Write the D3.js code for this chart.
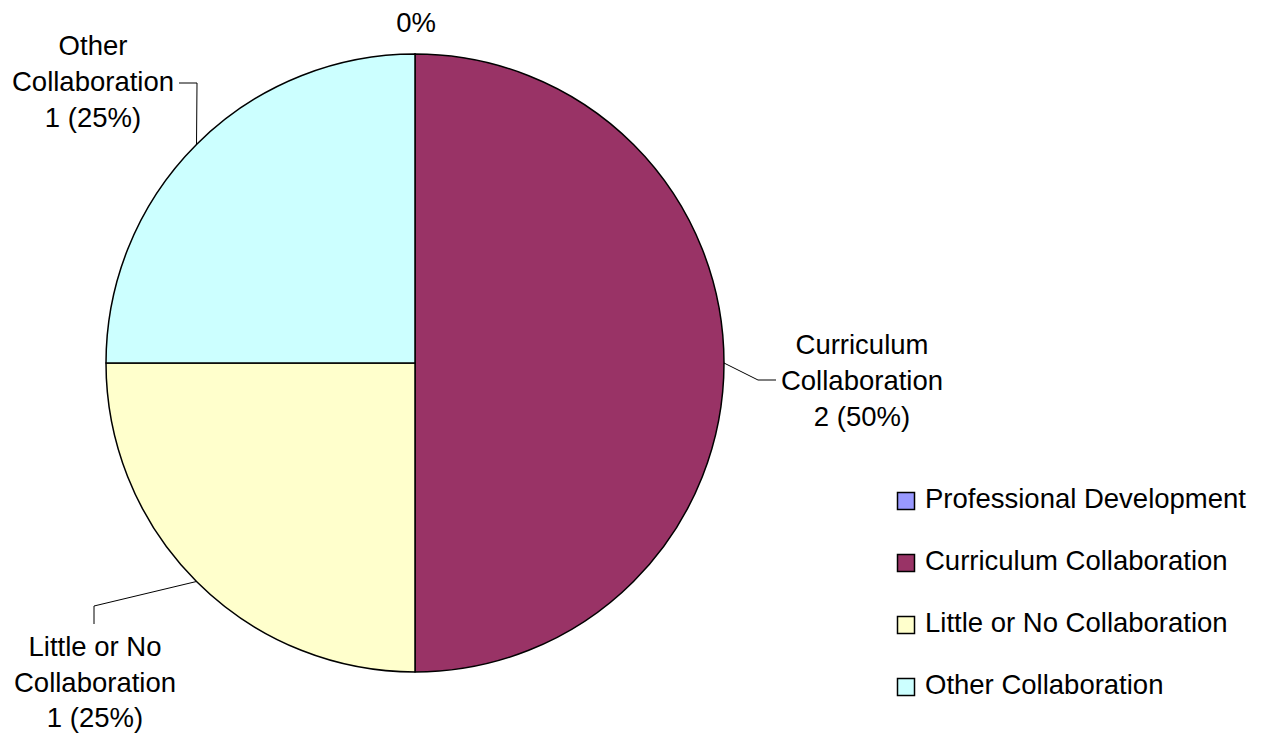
<!DOCTYPE html>
<html><head><meta charset="utf-8">
<script src="https://cdn.jsdelivr.net/npm/d3@7"></script>
<style>body{margin:0;background:#fff}svg{display:block}text{font-family:"Liberation Sans",Arial,sans-serif;fill:#000}</style>
</head><body><svg id="c" width="1267" height="736"></svg>
<script>
const categories = ["Professional Development","Curriculum Collaboration","Little or No Collaboration","Other Collaboration"];
const values = [0, 2, 1, 1];
const colors = ["#9999FF","#993366","#FFFFCC","#CCFFFF"];
const labelLines = [["0%"],["Curriculum","Collaboration","2 (50%)"],["Little or No","Collaboration","1 (25%)"],["Other","Collaboration","1 (25%)"]];

const W=1267,H=736, cx=415, cy=363, R=309, fs=27.5, lh=36.2;
const svg=d3.select("#c");
const g=svg.append("g").attr("transform",`translate(${cx},${cy})`);
const pie=d3.pie().sort(null).value(d=>d)(values);
const arc=d3.arc().innerRadius(0).outerRadius(R);
g.selectAll("path.s").data(pie).join("path").attr("class","s")
  .attr("d",arc).attr("fill",(d,i)=>colors[i]).attr("stroke","#000").attr("stroke-width",1.5).attr("stroke-linejoin","round");

// label layout: label centre (relative to pie centre) and leader-line elbow
const layout = [
  {x:1, y:-341, leader:null},
  {x:447, y:17, elbow:[[343,17],[361,17]]},
  {x:-320, y:319, elbow:[[-321,243],[-321,261]]},
  {x:-322, y:-282, elbow:[[-218,-280],[-236,-280]]}
];
pie.forEach((d,i)=>{
  const L=layout[i];
  const mid=(d.startAngle+d.endAngle)/2;
  const p0=[R*Math.sin(mid), -R*Math.cos(mid)];
  if(L.elbow){
    g.append("path").attr("d",d3.line()([p0,...L.elbow])).attr("fill","none").attr("stroke","#000").attr("stroke-width",1);
  }
  const lines=labelLines[i];
  const t=g.append("text").attr("text-anchor","middle").attr("font-size",fs);
  const lhi = i===2 ? 35.5 : lh;
  const y0=L.y-(lines.length-1)*lhi/2+fs*0.36;
  lines.forEach((s,k)=>t.append("tspan").attr("x",L.x).attr("y",y0+k*lhi).text(s));
});

// legend
const leg=svg.append("g").attr("transform","translate(897,492)");
const row=leg.selectAll("g").data(categories).join("g").attr("transform",(d,i)=>`translate(0,${i*62})`);
row.append("rect").attr("x",0.5).attr("y",0.5).attr("width",17).attr("height",17).attr("fill",(d,i)=>colors[i]).attr("stroke","#000").attr("stroke-width",1.5);
row.append("text").attr("x",28).attr("y",16).attr("font-size",fs).text(d=>d);
</script></body></html>
